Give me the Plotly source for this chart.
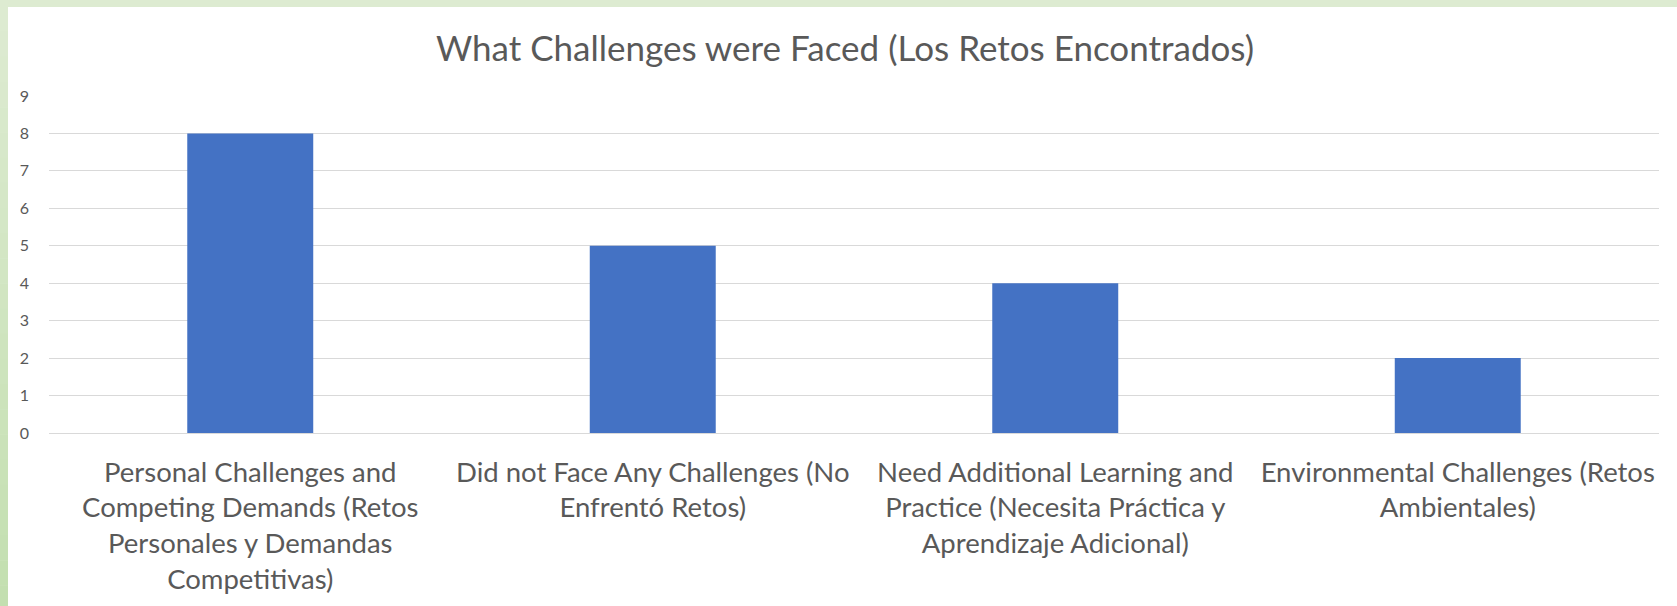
import plotly.graph_objects as go

categories = [
    "Personal Challenges and<br>Competing Demands (Retos<br>Personales y Demandas<br>Competitivas)",
    "Did not Face Any Challenges (No<br>Enfrentó Retos)",
    "Need Additional Learning and<br>Practice (Necesita Práctica y<br>Aprendizaje Adicional)",
    "Environmental Challenges (Retos<br>Ambientales)",
]
values = [8, 5, 4, 2]
y_ticks = [0, 1, 2, 3, 4, 5, 6, 7, 8, 9]
title_text = "What Challenges were Faced (Los Retos Encontrados)"

W, H = 1677, 606
L, R, T, B = 49, 18, 96, 173
pw, ph = W - L - R, H - T - B

def px_x(p):
    return (p - L) / pw

def px_y(p):
    return (H - B - p) / ph

fig = go.Figure(go.Bar(x=categories, y=values, marker=dict(color="#4472C4", line=dict(width=0))))

shapes = []
# top green strip
shapes.append(dict(type="rect", xref="paper", yref="paper", x0=px_x(-5), x1=px_x(W + 5),
                   y0=px_y(7), y1=px_y(-5), fillcolor="#DDEBD1", line=dict(width=0), layer="below"))
# left green strip with vertical gradient
top_c = (0xDD, 0xEB, 0xD1)
bot_c = (0xC3, 0xDF, 0xB0)
n = 24
for i in range(n):
    t = i / (n - 1)
    c = tuple(int(round(top_c[k] + (bot_c[k] - top_c[k]) * t)) for k in range(3))
    y0p = 7 + (H + 5 - 7) * i / n
    y1p = 7 + (H + 5 - 7) * (i + 1) / n
    shapes.append(dict(type="rect", xref="paper", yref="paper", x0=px_x(-5), x1=px_x(8),
                       y0=px_y(y1p), y1=px_y(y0p - 0.5), fillcolor="rgb(%d,%d,%d)" % c,
                       line=dict(width=0), layer="below"))

fig.update_layout(
    width=W, height=H,
    margin=dict(l=L, r=R, t=T, b=B, pad=0),
    paper_bgcolor="white", plot_bgcolor="white",
    font=dict(family="Lato", color="#595959"),
    title=dict(text=title_text, x=845 / W, xanchor="center", y=1 - 49 / H, yanchor="middle",
               font=dict(family="Lato", size=35, color="#595959")),
    bargap=0.687,
    showlegend=False,
    shapes=shapes,
    xaxis=dict(showgrid=False, showline=False, zeroline=False, ticks="",
               tickfont=dict(family="Lato", size=27.5, color="#595959"), tickangle=0,
               ticklabelstandoff=20, automargin=False),
    yaxis=dict(range=[0, 9], tickvals=y_ticks, showgrid=True, gridcolor="#D9D9D9", gridwidth=1.3,
               zeroline=True, zerolinecolor="#D9D9D9", zerolinewidth=1.3, showline=False, ticks="",
               tickfont=dict(family="Lato", size=16, color="#595959"), ticklabelstandoff=19,
               automargin=False),
)

fig.write_html(
    "out.html",
    config={"displayModeBar": False},
    post_script="document.body.style.margin='0';document.body.style.overflow='hidden';",
)
